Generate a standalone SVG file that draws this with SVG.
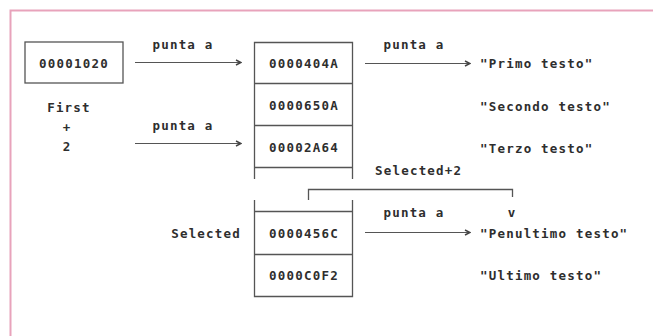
<svg xmlns="http://www.w3.org/2000/svg" width="653" height="336" viewBox="0 0 653 336">
<style>
text{font-family:"DejaVu Sans Mono","Liberation Mono",monospace;font-weight:bold;font-size:12.5px;fill:#2e2e2e;letter-spacing:1.2px;dominant-baseline:central}
.c{text-anchor:middle}
.e{text-anchor:end}
.ln{fill:none;stroke:#555;stroke-width:1.3}
.ar{fill:none;stroke:#555;stroke-width:1.2;marker-end:url(#chev)}
</style>
<defs>
<marker id="chev" viewBox="0 0 8 8" refX="7" refY="4" markerWidth="8" markerHeight="8" markerUnits="userSpaceOnUse" orient="auto">
<polyline points="2,1.5 7,4 2,6.5" fill="none" stroke="#444" stroke-width="1.5"/>
</marker>
</defs>
<rect width="653" height="336" fill="#fff"/>
<g id="frame">
<path d="M10.5,336 V10.5 H653" fill="none" stroke="#e8a3bb" stroke-width="2"/>
</g>
<g id="first-box">
<rect class="ln" x="25" y="42" width="98" height="41"/>
<text class="c" x="74" y="63">00001020</text>
</g>
<g id="first-label">
<text class="c" x="69" y="107">First</text>
<text class="c" x="67" y="127">+</text>
<text class="c" x="67" y="146">2</text>
</g>
<g id="upper-table">
<path class="ln" d="M254.5,179 V42.5 H352.5 V179 M254.5,83.5 H352.5 M254.5,125.5 H352.5 M254.5,167.5 H352.5"/>
<text class="c" x="304" y="63">0000404A</text>
<text class="c" x="304" y="105">0000650A</text>
<text class="c" x="304" y="147">00002A64</text>
</g>
<g id="lower-table">
<path class="ln" d="M254.5,200 V296.5 H352.5 V200 M254.5,211.5 H352.5 M254.5,254.5 H352.5"/>
<text class="c" x="304" y="233">0000456C</text>
<text class="c" x="304" y="275">0000C0F2</text>
</g>
<g id="strings">
<text x="480" y="63">"Primo testo"</text>
<text x="480" y="106">"Secondo testo"</text>
<text x="480" y="148">"Terzo testo"</text>
<text x="480" y="233">"Penultimo testo"</text>
<text x="480" y="275">"Ultimo testo"</text>
</g>
<g id="labels">
<text class="e" x="241" y="233">Selected</text>
<text x="375" y="170">Selected+2</text>
</g>
<g id="connectors">
<line class="ar" x1="135" y1="62.5" x2="241" y2="62.5"/>
<text class="c" x="183" y="44">punta a</text>
<line class="ar" x1="135" y1="143.5" x2="241" y2="143.5"/>
<text class="c" x="183" y="125">punta a</text>
<line class="ar" x1="365" y1="63.5" x2="470" y2="63.5"/>
<text class="c" x="414" y="44">punta a</text>
<line class="ar" x1="365" y1="232.5" x2="470" y2="232.5"/>
<text class="c" x="414" y="212">punta a</text>
<path class="ln" d="M308.5,200 V189.5 H512.5 V197"/>
<text class="c" x="512" y="212">v</text>
</g>
</svg>
